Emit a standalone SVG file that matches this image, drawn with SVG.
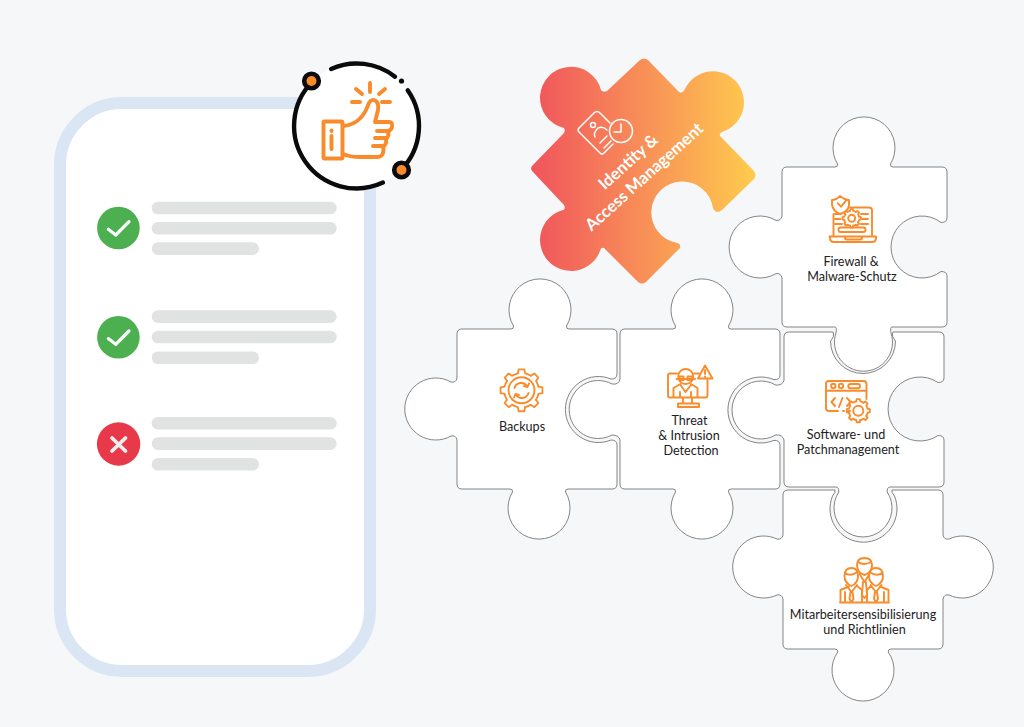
<svg xmlns="http://www.w3.org/2000/svg" width="1024" height="727" viewBox="0 0 1024 727">
<style>
.bar{fill:#e1e3e3}
.pc{fill:#fff;stroke:#6f6f6f;stroke-width:.85}
.ic{fill:none;stroke:#f98b2b;stroke-width:1.9;stroke-linecap:round;stroke-linejoin:round}
.lb{font-family:Lato,"Open Sans","Liberation Sans",sans-serif;font-size:12.6px;fill:#222;text-anchor:middle}
.rd{font-family:Lato,"Open Sans","Liberation Sans",sans-serif;font-size:16.6px;font-weight:700;fill:#fff;text-anchor:middle}
.w{fill:none;stroke:#fff;stroke-width:1.5;stroke-linecap:round;stroke-linejoin:round}
</style>
<defs>
<linearGradient id="rg" gradientUnits="userSpaceOnUse" x1="530" y1="0" x2="755" y2="0">
<stop offset="0" stop-color="#f0535c"/><stop offset=".5" stop-color="#f88f58"/><stop offset="1" stop-color="#ffcb4d"/>
</linearGradient>
<path id="t" d="M-3.8 -17.6L-3 -21.8H3L3.8 -17.6A18 18 0 0 1 9.76 -15.13"/>
<g id="gear"><use href="#t"/><use href="#t" transform="rotate(45)"/><use href="#t" transform="rotate(90)"/><use href="#t" transform="rotate(135)"/><use href="#t" transform="rotate(180)"/><use href="#t" transform="rotate(225)"/><use href="#t" transform="rotate(270)"/><use href="#t" transform="rotate(315)"/></g>
</defs>
<rect width="1024" height="727" fill="#f5f7f9"/>
<g id="card">
<rect x="60" y="103" width="310" height="568" rx="62" fill="#fff" stroke="#dbe6f4" stroke-width="12"/>
<circle cx="118.4" cy="228" r="21.3" fill="#4caf50"/>
<path d="M108.3 229.3L115.7 235L129 221.7" fill="none" stroke="#fff" stroke-width="3.2" stroke-linecap="round" stroke-linejoin="round"/>
<rect class="bar" x="151.7" y="201.7" width="185" height="12.6" rx="6.3"/>
<rect class="bar" x="151.7" y="222" width="185" height="12.6" rx="6.3"/>
<rect class="bar" x="151.7" y="242.3" width="107.3" height="12.6" rx="6.3"/>
<circle cx="118.4" cy="337.3" r="21.3" fill="#4caf50"/>
<path d="M108.3 338.6L115.7 344.3L129 331" fill="none" stroke="#fff" stroke-width="3.2" stroke-linecap="round" stroke-linejoin="round"/>
<rect class="bar" x="151.7" y="310.3" width="185" height="12.6" rx="6.3"/>
<rect class="bar" x="151.7" y="330.7" width="185" height="12.6" rx="6.3"/>
<rect class="bar" x="151.7" y="351.5" width="107.3" height="12.6" rx="6.3"/>
<circle cx="118.6" cy="444" r="21.7" fill="#e8394a"/>
<path d="M112 438L125.5 451M125.5 438L112 451" fill="none" stroke="#eee" stroke-width="3.8" stroke-linecap="round"/>
<rect class="bar" x="151.7" y="417" width="185" height="12.6" rx="6.3"/>
<rect class="bar" x="151.7" y="437.3" width="185" height="12.6" rx="6.3"/>
<rect class="bar" x="151.7" y="458" width="107.3" height="12.6" rx="6.3"/>
</g>
<g id="thumb">
<circle cx="356.500" cy="126" r="62.500" fill="#fff"/>
<g fill="none" stroke="#0b0b0b" stroke-width="4.400" stroke-linecap="round">
<path d="M331.100 68.900A62.500 62.500 0 0 1 395 76.700"/>
<path d="M407.700 90.200A62.500 62.500 0 0 1 400.700 170.200"/>
<path d="M382.900 182.600A62.500 62.500 0 0 1 312.300 81.800"/>
</g>
<circle cx="401.500" cy="81" r="2.600" fill="#0b0b0b"/>
<circle cx="311.500" cy="81" r="7.300" fill="#f98b2b" stroke="#0b0b0b" stroke-width="4.600"/>
<circle cx="401.500" cy="170" r="7.300" fill="#f98b2b" stroke="#0b0b0b" stroke-width="4.600"/>
<g fill="none" stroke="#f98b2b" stroke-width="3.900" stroke-linecap="round" stroke-linejoin="round">
<rect x="323.500" y="121.500" width="19" height="37" rx="1"/>
<path d="M331.500 136V149M331.500 130.500V131"/>
<path d="M343 126C355 125 362 118 366 110L369 103Q372 98 376 101Q379 104 378 110L375 122H389Q393 122 392 127Q391 131 387 131H377M387 131Q390 134 387 138H375M385 138Q388 142 384 146H373M383 146Q385 156 378 157H360Q350 157 343 154"/>
<path d="M370 83V92M356 89L362 94M385 89L379 94M352 102H360M382 102H390"/>
</g>
</g>
<g id="piece-identity">
<path fill="url(#rg)" d="M533 165L563 134q3 -3 1 -6A31 31 0 1 1 601 90q2 3 6 1L640 60q4 -3 8 0L678 91q4 4 7 -2A31 31 0 1 1 722 132q-4 2 -1 5L754 171q3 4 0 8L722 210q-6 5 -9 -2A31 31 0 1 0 677 243q4 1 3 5L646 282q-4 3 -8 0L604 248q-3 -1 -4 3A31 31 0 1 1 563 210q3 -1 1 -5L533 172q-4 -3.500 0 -7Z"/>
<path class="w" d="M610 123L600 113q-3 -3 -6 0L579 128q-2 2 0 4L600 153q2 2 4 0L613 144"/>
<circle class="w" cx="621" cy="131" r="11.500"/>
<path class="w" d="M621 124V132H614"/>
<circle class="w" cx="593" cy="125" r="2.500"/>
<path class="w" d="M595 137Q593 133 598 128Q603 126 607 130M600 143L607 136M604 148L611 141"/>
<text class="rd" transform="translate(632 166) rotate(-42)">Identity &amp;</text>
<text class="rd" transform="translate(648 181) rotate(-42)">Access Management</text>
</g>
<g id="piece-backups">
<path class="pc" d="M462 329H511q3 0 2.500 -3A31 31 0 1 1 566.500 326q-.5 3 2.500 3H612q5 0 5 5V374q0 5 -6 5A33 33 0 1 0 611 440q6 0 6 5V484q0 5 -5 5H568q-3 0 -2.500 3A31 31 0 1 1 512.500 492q.5 -3 -2.500 -3H462q-5 0 -5 -5V440q-1 -5 -6 -4A31 31 0 1 1 451 382q5 1 6 -4V334q0 -5 5 -5Z"/>
<g class="ic">
<use href="#gear" transform="translate(521.500 390.300) scale(.96)"/>
<circle cx="521.500" cy="390.300" r="13"/>
<path d="M514.500 388A7 7 0 0 1 527 386M528.500 393A7 7 0 0 1 516 395M529 383.500L527.500 387L524 386M514 397.500L515.500 394L519 395"/>
</g>
<text class="lb" x="522" y="431">Backups</text>
</g>
<g id="piece-threat">
<path class="pc" d="M625 329H673q3 0 2.500 -3A31 31 0 1 1 728.500 326q-.5 3 2.500 3H775q5 0 5 5V375q0 5 -6 4.700A33 33 0 1 0 774 440.300q6 0 6 5V484q0 5 -5 5H731q-3 0 -2.500 3A31 31 0 1 1 675.500 492q.5 -3 -2.500 -3H625q-5 0 -5 -5V440q-1 -5 -8 -5A29 29 0 1 1 612 384q7 1 8 -5V334q0 -5 5 -5Z"/>
<g class="ic">
<path d="M677 373.500H670q-2 0 -2 2V395.500q0 2 2 2H705.500q2 0 2 -2V380M694 373.500H699M683 398V403M692 398V403M678 403.500H699V407H678Z"/>
<circle cx="685.700" cy="376.500" r="7.500"/>
<path d="M676.500 379H695M679.500 376.500H683.500V380H679.500ZM687.500 376.500H692V380H687.500ZM680.500 384L673.500 388V397M691 384L697.500 388V397M680.500 385L685.500 392L691 385M680 397V392M691 397V392"/>
<path d="M705 365.500L698 378.500H712.500ZM705 370V374M705 376.500V376.700"/>
</g>
<text class="lb" x="689.500" y="425">Threat</text>
<text class="lb" x="689" y="440">&amp; Intrusion</text>
<text class="lb" x="691" y="455">Detection</text>
</g>
<g id="piece-firewall">
<path class="pc" d="M787 167H835q3 0 2.500 -3A31 31 0 1 1 890.500 164q-.5 3 2.500 3H942q5 0 5 5V218q0 4.500 -6 4.500A31 31 0 1 0 941 271.500q6 0 6 4.500V322q0 5 -5 5H892q-2 0 -1 6A29 29 0 1 1 836 333q1 -6 -1 -6H787q-5 0 -5 -5V278q-1 -5 -6 -4.400A31 31 0 1 1 776 220.400q5 .6 6 -4.400V172q0 -5 5 -5Z"/>
<g class="ic">
<path d="M850 207.500H869q3 0 3 3V235M833.500 214V235M829.500 236.500H876V238q0 4 -4 4H834q-4 0 -4 -4ZM845 236.500v1q0 2 2 2h13q2 0 2 -2v-1"/>
<path d="M840 196Q845 200 849 200V205Q849 211 840 214Q833 211 832 205V200Q836 200 840 196ZM837.700 203.300L841 206.700L846 200.700"/>
<use href="#gear" transform="translate(851.700 218.300) scale(.42)" stroke-width="4.400"/>
<circle cx="851.700" cy="218.300" r="3.500"/>
<path d="M835 214H841M835 219H840.500M835 224H842M861 214H868M862 219H868M861 224H868"/>
<rect x="838.500" y="227.500" width="27" height="4.500" rx="2"/>
</g>
<text class="lb" x="851" y="265.500">Firewall &amp;</text>
<text class="lb" x="852" y="281">Malware-Schutz</text>
</g>
<g id="piece-software">
<path class="pc" d="M789 332H833q2 4 -2.500 9A32.500 32.500 0 1 0 895.500 341q-4.500 -5 -2.500 -9H939q5 0 5 5V378q0 4.500 -6 4.500A32 32 0 1 0 938 435.500q6 0 6 4.500V482q0 5 -5 5H890q-3 0 -2.800 5A29 29 0 1 1 838.800 492q.2 -5 -2.800 -5H789q-5 0 -5 -5V440q-1 -5 -8 -5.200A29 29 0 1 1 776 385.200q7 0 8 -5V337q0 -5 5 -5Z"/>
<g class="ic">
<path d="M866.500 399V384q0 -3 -3 -3H829q-3 0 -3 3V408q0 3 3 3H838M843 411H844M848 411H850M826.500 390.700H866.500"/>
<circle cx="833.300" cy="386" r="2.200"/><circle cx="841" cy="386" r="2.200"/>
<rect x="848.300" y="384" width="11.700" height="4.300" rx="2.100"/>
<path d="M835 398L831.500 402L835 406M839 407L842.500 398M847 398L850.500 402L847 406"/>
<use href="#gear" transform="translate(858.300 410.700) scale(.53)" stroke-width="3.500"/>
<circle cx="858.300" cy="410.700" r="5"/>
</g>
<text class="lb" x="846" y="439">Software- und</text>
<text class="lb" x="848" y="454">Patchmanagement</text>
</g>
<g id="piece-awareness">
<path class="pc" d="M788 490H835q1 2 -2.500 6A33.500 33.500 0 1 0 894.500 496q-3.500 -4 -2.500 -6H938q5 0 5 5V535q1 5 6 4A31 31 0 1 1 949 595q-5 -1 -6 4V644q0 5 -5 5H891q-3 0 -2.800 3A31 31 0 1 1 837.800 652q.2 -3 -2.800 -3H788q-5 0 -5 -5V599q-1 -5 -6 -4A31 31 0 1 1 777 539q5 1 6 -4V495q0 -5 5 -5Z"/>
<g class="ic">
<path d="M840 602.500H889M840.500 602V590L849 586.500M888.500 602V590L880 586.500"/>
<path d="M857 565Q857 558 864.500 558Q872 558 872 565Q872 573 864.500 575Q857 573 857 565ZM858 562Q864 566 871 562M859.500 574L864.500 582L869.500 574M863 582L862 595L864.500 598L867 595L866 582"/>
<path d="M844.500 576Q844.500 568 851.500 568Q858 568 858 576Q858 583 851.500 586Q844.500 583 844.500 576ZM845 573Q851 577 857 572M846 585L851.500 592L857 585M850.500 592L849.500 599L851.500 602L853.500 599L852.500 592M862 602V590L857 586"/>
<path d="M869 576Q869 568 876 568Q883 568 883 576Q883 583 876 586Q869 583 869 576ZM870 572Q876 577 882 573M870.500 585L876 592L881.500 585M875 592L874 599L876 602L878 599L877 592M867 602V590L871 586"/>
<path d="M845 592V602M884 592V602"/>
</g>
<text class="lb" x="863" y="619">Mitarbeitersensibilisierung</text>
<text class="lb" x="864.500" y="634">und Richtlinien</text>
</g>
</svg>
